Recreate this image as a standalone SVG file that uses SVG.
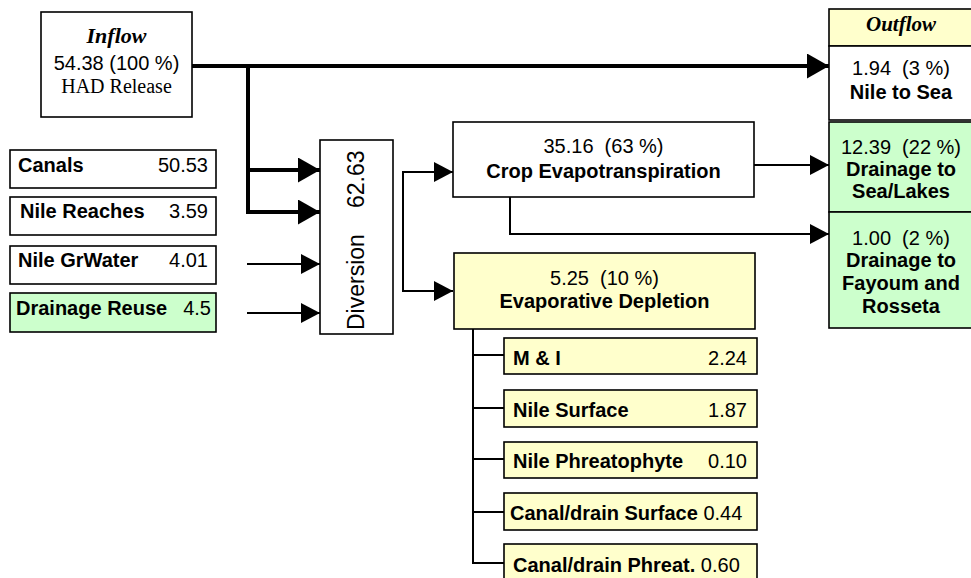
<svg xmlns="http://www.w3.org/2000/svg" width="971" height="578" viewBox="0 0 971 578">
<style>
.box{stroke:#000;stroke-width:1.6;}
.w{fill:#fff}
.y{fill:#ffffcc}
.g{fill:#ccffcc}
text{font-family:"Liberation Sans",Arial,sans-serif;font-size:20px;fill:#000}
.b{font-weight:bold}
.ser{font-family:"Liberation Serif","Times New Roman",serif}
.bi{font-family:"Liberation Serif","Times New Roman",serif;font-weight:bold;font-style:italic;font-size:22px}
.c{text-anchor:middle}
.r{text-anchor:end}
.thick{fill:none;stroke:#000;stroke-width:4}
.thin{fill:none;stroke:#000;stroke-width:2}
</style>
<defs>
<marker id="ab" markerUnits="userSpaceOnUse" markerWidth="24" markerHeight="26" refX="22" refY="12.5" orient="auto" viewBox="0 0 24 26">
<path d="M0,0 L22,12.5 L0,25 Z" fill="#000"/>
</marker>
<marker id="as" markerUnits="userSpaceOnUse" markerWidth="20" markerHeight="22" refX="19" refY="10" orient="auto" viewBox="0 0 20 22">
<path d="M0,0 L19,10 L0,20 Z" fill="#000"/>
</marker>
</defs>

<g id="connectors">
<path class="thick" d="M192,66 H829" marker-end="url(#ab)"/>
<path class="thick" d="M248,66 V212"/>
<path class="thick" d="M248,170 H320" marker-end="url(#ab)"/>
<path class="thick" d="M246,212 H320" marker-end="url(#ab)"/>
<path class="thin" d="M247,264 H320" marker-end="url(#as)"/>
<path class="thin" d="M247,313 H320" marker-end="url(#as)"/>
<path class="thin" d="M453,172 H403 V291 H453" marker-end="url(#as)"/>
<path class="thin" d="M403,172 H453" marker-end="url(#as)"/>
<path class="thin" d="M754,165 H829" marker-end="url(#as)"/>
<path class="thin" d="M510,197 V234 H829" marker-end="url(#as)"/>
<path class="thin" d="M473,329 V563 H504"/>
<path class="thin" d="M473,355 H504 M473,408 H504 M473,459 H504 M473,512 H504"/>
</g>

<g id="inflow">
<rect class="box w" x="41" y="12" width="151" height="105"/>
<text class="bi c" x="116.5" y="43">Inflow</text>
<text class="c" x="116.5" y="70">54.38 (100 %)</text>
<text class="ser c" x="116.5" y="93">HAD Release</text>
</g>

<g id="canals">
<rect class="box w" x="10" y="150" width="206" height="38"/>
<text class="b" x="18" y="172">Canals</text>
<text class="r" x="208" y="172">50.53</text>
</g>
<g id="nile-reaches">
<rect class="box w" x="10" y="197" width="206" height="38"/>
<text class="b" x="20" y="218">Nile Reaches</text>
<text class="r" x="208" y="218">3.59</text>
</g>
<g id="nile-grwater">
<rect class="box w" x="10" y="246" width="206" height="38"/>
<text class="b" x="18" y="267">Nile GrWater</text>
<text class="r" x="208" y="267">4.01</text>
</g>
<g id="drainage-reuse">
<rect class="box g" x="10" y="293" width="206" height="39"/>
<text class="b" x="16" y="315">Drainage Reuse</text>
<text class="r" x="211" y="315">4.5</text>
</g>

<g id="diversion">
<rect class="box w" x="320" y="140" width="73" height="194"/>
<text font-size="23" style="font-size:23px" transform="translate(364,330) rotate(-90)">Diversion</text>
<text style="font-size:23px" transform="translate(364,208) rotate(-90)">62.63</text>
</g>

<g id="crop-et">
<rect class="box w" x="453" y="122" width="301" height="75"/>
<text class="c" x="603.5" y="153" xml:space="preserve">35.16  (63 %)</text>
<text class="b c" x="603.5" y="178">Crop Evapotranspiration</text>
</g>

<g id="evap-depletion">
<rect class="box y" x="454" y="253" width="301" height="76"/>
<text class="c" x="604.5" y="285" xml:space="preserve">5.25  (10 %)</text>
<text class="b c" x="604.5" y="308">Evaporative Depletion</text>
</g>

<g id="m-i">
<rect class="box y" x="504" y="338" width="253" height="36"/>
<text class="b" x="513" y="365">M &amp; I</text>
<text class="r" x="747" y="365">2.24</text>
</g>
<g id="nile-surface">
<rect class="box y" x="504" y="390" width="253" height="37"/>
<text class="b" x="513" y="417">Nile Surface</text>
<text class="r" x="747" y="417">1.87</text>
</g>
<g id="nile-phreatophyte">
<rect class="box y" x="504" y="442" width="253" height="36"/>
<text class="b" x="513" y="468">Nile Phreatophyte</text>
<text class="r" x="747" y="468">0.10</text>
</g>
<g id="canal-surface">
<rect class="box y" x="504" y="493" width="253" height="37"/>
<text x="510" y="520"><tspan class="b">Canal/drain Surface</tspan> 0.44</text>
</g>
<g id="canal-phreat">
<rect class="box y" x="504" y="544" width="253" height="40"/>
<text x="513" y="572"><tspan class="b">Canal/drain Phreat.</tspan> 0.60</text>
</g>

<g id="outflow">
<rect class="box y" x="829" y="9" width="143" height="37"/>
<text class="bi c" x="901" y="31" style="font-size:21px">Outflow</text>
</g>
<g id="nile-to-sea">
<rect class="box w" x="829" y="46" width="143" height="74"/>
<text class="c" x="901" y="75" xml:space="preserve">1.94  (3 %)</text>
<text class="b c" x="901" y="99">Nile to Sea</text>
</g>
<g id="drainage-sea-lakes">
<rect class="box g" x="829" y="122" width="143" height="90"/>
<text class="c" x="901" y="154" xml:space="preserve">12.39  (22 %)</text>
<text class="b c" x="901" y="176">Drainage to</text>
<text class="b c" x="901" y="198">Sea/Lakes</text>
</g>
<g id="drainage-fayoum">
<rect class="box g" x="829" y="212" width="143" height="116"/>
<text class="c" x="901" y="245" xml:space="preserve">1.00  (2 %)</text>
<text class="b c" x="901" y="267">Drainage to</text>
<text class="b c" x="901" y="290">Fayoum and</text>
<text class="b c" x="901" y="313">Rosseta</text>
</g>
</svg>
